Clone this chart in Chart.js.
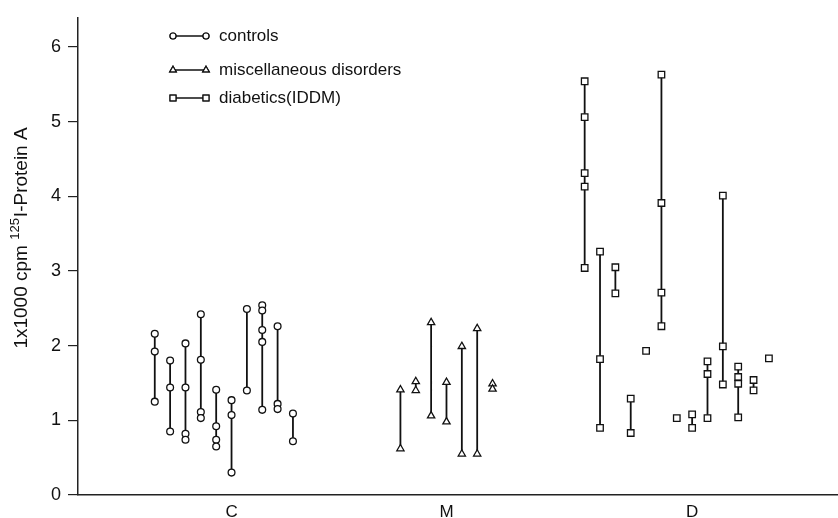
<!DOCTYPE html>
<html>
<head>
<meta charset="utf-8">
<script src="https://cdn.jsdelivr.net/npm/chart.js@4"></script>
<style>
  body { margin: 0; background: #fff; }
  #wrap { width: 838px; height: 518px; }
</style>
</head>
<body>
<div id="wrap"><canvas id="chart" width="838" height="518"></canvas></div>
<script>
// Values: one inner array per subject (x1000 cpm)
const controls = [
  [2.16, 1.92, 1.25],
  [1.80, 1.44, 0.85],
  [2.03, 1.44, 0.82, 0.74],
  [2.42, 1.81, 1.11, 1.03],
  [1.41, 0.92, 0.74, 0.65],
  [1.27, 1.07, 0.30],
  [2.49, 1.40],
  [2.54, 2.47, 2.21, 2.05, 1.14],
  [2.26, 1.22, 1.15],
  [1.09, 0.72]
];
const misc = [
  [1.41, 0.62],
  [1.52, 1.40],
  [2.31, 1.06],
  [1.51, 0.98],
  [1.99, 0.55],
  [2.23, 0.55],
  [1.49, 1.42]
];
const diabetics = [
  [5.54, 5.06, 4.31, 4.13, 3.04],
  [3.26, 1.82, 0.90],
  [3.05, 2.70],
  [1.29, 0.83],
  [1.93],
  [5.63, 3.91, 2.71, 2.26],
  [1.03],
  [1.08, 0.90],
  [1.79, 1.62, 1.03],
  [4.01, 1.99, 1.48],
  [1.72, 1.58, 1.49, 1.04],
  [1.54, 1.40],
  [1.83]
];

// x slot of the first subject in each group, and where the group letters sit
const groupStart = [5, 21, 33];
const groupLabels = ['C', 'M', 'D'];
const groupCenters = [10, 24, 40];
const yTicks = [0, 1, 2, 3, 4, 5, 6];

const legendNames = ['controls', 'miscellaneous disorders', 'diabetics(IDDM)'];
// y title in three parts so the isotope number can be a real superscript
const yTitleParts = ['1x1000 cpm ', '125', 'I-Protein A'];
const FONT = "'Liberation Sans', Arial, sans-serif";

// flatten subjects into one series, a null between subjects breaks the line
function toPoints(subjects, start) {
  const pts = [];
  subjects.forEach((vals, i) => {
    vals.forEach(v => pts.push({ x: start + i, y: v }));
    pts.push({ x: start + i, y: null });
  });
  return pts;
}

function makeSet(label, subjects, start, style, radius) {
  return {
    label: label,
    data: toPoints(subjects, start),
    showLine: true,
    spanGaps: false,
    borderColor: '#111',
    borderWidth: 1.8,
    pointStyle: style,
    pointRadius: radius,
    pointBorderWidth: 1.3,
    pointBackgroundColor: '#fff',
    pointBorderColor: '#111',
    pointHoverRadius: radius
  };
}

const datasets = [
  makeSet(legendNames[0], controls, groupStart[0], 'circle', 3.4),
  makeSet(legendNames[1], misc, groupStart[1], 'triangle', 4.2),
  makeSet(legendNames[2], diabetics, groupStart[2], 'rect', 4.6)
];

// legend drawn inside the plot, marker-line-marker like the original
const legendPlugin = {
  id: 'figLegend',
  afterDraw(chart) {
    const ctx = chart.ctx;
    const rows = [36, 70, 98];
    ctx.save();
    chart.data.datasets.forEach((ds, i) => {
      const y = rows[i];
      ctx.strokeStyle = '#111';
      ctx.lineWidth = 1.5;
      ctx.beginPath();
      ctx.moveTo(173, y);
      ctx.lineTo(206, y);
      ctx.stroke();
      ctx.fillStyle = '#fff';
      ctx.lineWidth = 1.2;
      [173, 206].forEach(px => {
        Chart.helpers.drawPoint(ctx, { pointStyle: ds.pointStyle, radius: ds.pointRadius - 0.4, borderWidth: 1.2 }, px, y);
        ctx.fill();
        ctx.stroke();
      });
      ctx.fillStyle = '#111';
      ctx.font = '17px ' + FONT;
      ctx.textBaseline = 'middle';
      ctx.fillText(ds.label, 219, y);
    });
    ctx.restore();
  }
};

// rotated y title, drawn by hand for the superscript
const yTitlePlugin = {
  id: 'yTitle',
  afterDraw(chart) {
    const ctx = chart.ctx;
    const big = '19px ' + FONT, small = '13px ' + FONT;
    ctx.save();
    ctx.font = big;
    const w0 = ctx.measureText(yTitleParts[0]).width;
    const w2 = ctx.measureText(yTitleParts[2]).width;
    ctx.font = small;
    const w1 = ctx.measureText(yTitleParts[1]).width + 1;
    const total = w0 + w1 + w2;
    ctx.translate(27, 238);
    ctx.rotate(-Math.PI / 2);
    ctx.fillStyle = '#111';
    ctx.textBaseline = 'alphabetic';
    let x = -total / 2;
    ctx.font = big;
    ctx.fillText(yTitleParts[0], x, 0);
    x += w0;
    ctx.font = small;
    ctx.fillText(yTitleParts[1], x, -8);
    x += w1;
    ctx.font = big;
    ctx.fillText(yTitleParts[2], x, 0);
    ctx.restore();
  }
};

new Chart(document.getElementById('chart'), {
  type: 'line',
  data: { datasets: datasets },
  plugins: [legendPlugin, yTitlePlugin],
  options: {
    responsive: false,
    devicePixelRatio: 1,
    animation: false,
    layout: { autoPadding: false, padding: { top: 12, right: 0, left: 0, bottom: 0 } },
    plugins: { legend: { display: false }, tooltip: { enabled: false } },
    scales: {
      x: {
        type: 'linear',
        min: 0,
        max: 49.5,
        afterBuildTicks: s => { s.ticks = groupCenters.map(v => ({ value: v })); },
        afterFit: s => { s.height = 23; s.paddingLeft = 0; s.paddingRight = 0; },
        ticks: {
          callback: (v) => groupLabels[groupCenters.indexOf(v)],
          color: '#111',
          font: { family: FONT, size: 17 },
          padding: 7,
          maxRotation: 0
        },
        grid: { display: false, drawTicks: false },
        border: { display: true, color: '#222', width: 1.5 }
      },
      y: {
        min: 0,
        max: 6.39,
        afterBuildTicks: s => { s.ticks = yTicks.map(v => ({ value: v })); },
        afterFit: s => { s.width = 78; },
        ticks: {
          color: '#111',
          font: { family: FONT, size: 18 },
          padding: 7
        },
        grid: { display: true, drawOnChartArea: false, drawTicks: true, tickLength: 10, color: '#222', lineWidth: 1.2 },
        border: { display: true, color: '#222', width: 1.5 }
      }
    }
  }
});
</script>
</body>
</html>
